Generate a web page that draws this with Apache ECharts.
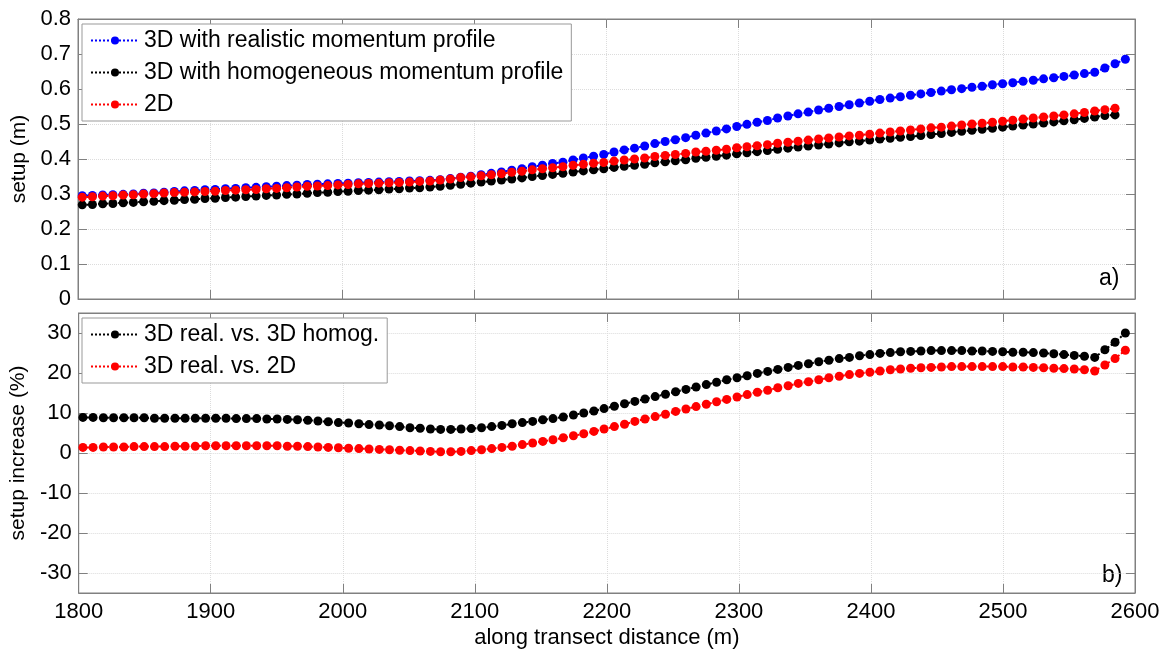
<!DOCTYPE html>
<html><head><meta charset="utf-8">
<script src="https://cdn.jsdelivr.net/npm/echarts@6/dist/echarts.min.js"></script>
<style>html,body{margin:0;padding:0;background:#fff}#c{width:1167px;height:650px}</style>
</head><body><div id="c"></div><script>
// ---- data ----
const distance = [1803.2,1810.9,1818.7,1826.4,1834.2,1841.9,1849.6,1857.4,1865.1,1872.9,
1880.6,1888.3,1896.1,1903.8,1911.6,1919.3,1927.0,1934.8,1942.5,1950.3,
1958.0,1965.7,1973.5,1981.2,1989.0,1996.7,2004.4,2012.2,2019.9,2027.7,
2035.4,2043.1,2050.9,2058.6,2066.4,2074.1,2081.8,2089.6,2097.3,2105.1,
2112.8,2120.5,2128.3,2136.0,2143.8,2151.5,2159.2,2167.0,2174.7,2182.5,
2190.2,2197.9,2205.7,2213.4,2221.2,2228.9,2236.6,2244.4,2252.1,2259.9,
2267.6,2275.3,2283.1,2290.8,2298.6,2306.3,2314.0,2321.8,2329.5,2337.3,
2345.0,2352.7,2360.5,2368.2,2376.0,2383.7,2391.4,2399.2,2406.9,2414.7,
2422.4,2430.1,2437.9,2445.6,2453.4,2461.1,2468.8,2476.6,2484.3,2492.1,
2499.8,2507.5,2515.3,2523.0,2530.8,2538.5,2546.2,2554.0,2561.7,2569.5,
2577.2,2584.9,2592.7];

const setupRealistic = [.295,.296,.297,.298,.299,.300,.302,.303,.305,.307,
.309,.310,.312,.313,.315,.316,.318,.319,.321,.322,
.324,.325,.327,.328,.329,.330,.331,.332,.333,.334,
.335,.336,.337,.338,.339,.341,.344,.348,.351,.355,
.359,.363,.368,.372,.378,.382,.387,.391,.397,.403,
.408,.413,.420,.426,.431,.437,.444,.450,.455,.461,
.468,.474,.480,.486,.493,.499,.505,.510,.517,.523,
.529,.534,.540,.545,.550,.555,.560,.565,.570,.574,
.578,.582,.586,.590,.594,.598,.601,.605,.608,.612,
.615,.618,.622,.625,.629,.632,.636,.640,.644,.648,
.660,.672,.685];

const setupHomogeneous = [.269,.270,.272,.273,.275,.276,.278,.279,.281,.282,
.284,.285,.287,.288,.290,.291,.293,.294,.296,.297,
.299,.300,.302,.304,.305,.307,.308,.310,.311,.312,
.314,.315,.317,.318,.320,.322,.325,.328,.331,.334,
.337,.340,.343,.346,.350,.353,.356,.359,.363,.366,
.369,.372,.376,.379,.382,.385,.389,.392,.395,.398,
.402,.405,.408,.411,.415,.418,.421,.424,.428,.431,
.434,.437,.440,.443,.446,.449,.451,.454,.457,.459,
.462,.464,.467,.470,.473,.476,.479,.482,.485,.488,
.491,.494,.497,.500,.503,.506,.509,.512,.516,.520,
.524,.526];

const setup2D = [.291,.292,.294,.295,.297,.298,.300,.301,.303,.304,
.305,.306,.307,.308,.310,.311,.312,.313,.315,.316,
.318,.320,.322,.323,.324,.326,.327,.329,.330,.331,
.332,.333,.334,.336,.337,.340,.343,.347,.349,.352,
.355,.358,.362,.365,.369,.372,.375,.378,.382,.385,
.388,.390,.394,.397,.400,.403,.407,.410,.413,.416,
.420,.422,.425,.428,.432,.435,.438,.441,.445,.448,
.451,.454,.457,.460,.463,.466,.468,.471,.474,.477,
.480,.483,.486,.489,.491,.494,.497,.500,.502,.505,
.508,.511,.514,.517,.520,.523,.526,.529,.533,.537,
.541,.545];

const increaseVsHomog = [8.9,8.9,8.8,8.8,8.8,8.8,8.8,8.7,8.7,8.7,
8.7,8.7,8.7,8.7,8.7,8.6,8.6,8.6,8.5,8.5,
8.4,8.3,8.2,8.0,7.8,7.6,7.5,7.3,7.1,7.0,
6.8,6.6,6.3,6.2,6.0,5.9,5.9,6.0,6.1,6.3,
6.6,6.9,7.3,7.6,7.9,8.3,8.6,9.0,9.5,10.0,
10.5,11.1,11.7,12.3,12.9,13.5,14.1,14.7,15.3,15.9,
16.5,17.1,17.7,18.3,18.8,19.3,19.9,20.4,20.9,21.4,
21.9,22.3,22.8,23.2,23.6,23.9,24.3,24.6,24.9,25.1,
25.3,25.4,25.5,25.6,25.6,25.6,25.6,25.5,25.5,25.4,
25.3,25.2,25.2,25.1,25.0,24.8,24.6,24.4,24.2,23.9,
25.8,27.7,30.0];

const increaseVs2D = [1.4,1.4,1.5,1.5,1.5,1.6,1.6,1.6,1.6,1.7,
1.7,1.7,1.8,1.8,1.8,1.8,1.8,1.8,1.8,1.8,
1.7,1.7,1.6,1.5,1.4,1.3,1.2,1.1,1.0,0.9,
0.8,0.7,0.6,0.5,0.4,0.3,0.3,0.4,0.6,0.8,
1.1,1.4,1.7,2.1,2.5,2.9,3.3,3.8,4.3,4.8,
5.4,6.0,6.6,7.2,7.9,8.5,9.1,9.7,10.4,11.0,
11.6,12.2,12.8,13.4,14.0,14.6,15.2,15.7,16.3,16.8,
17.4,17.8,18.3,18.8,19.2,19.6,19.9,20.2,20.5,20.8,
21.0,21.2,21.3,21.4,21.5,21.6,21.6,21.6,21.6,21.6,
21.6,21.5,21.5,21.4,21.3,21.2,21.1,21.0,20.8,20.5,
22.0,23.6,25.7];

const topNames = ['3D with realistic momentum profile','3D with homogeneous momentum profile','2D'];
const bottomNames = ['3D real. vs. 3D homog.','3D real. vs. 2D'];
const xLabelName = 'along transect distance (m)';
const yTopName = 'setup (m)';
const yBottomName = 'setup increase (%)';
const panelTags = ['a)','b)'];

// ---- styling ----
const FONT = '"Liberation Sans", Arial, Helvetica, sans-serif';
const FS = 22;     // tick labels
const FL = 23;     // legend / names
const AX = '#808080';
const GRIDC = '#dcdcdc';

function pairs(vals){ return vals.map((v,i)=>[distance[i], v]); }

function xAx(grid, pos, labels, split, name){
  return {
    type:'value', gridIndex:grid, position:pos, min:1800, max:2600, interval:100,
    axisLine:{show:true, onZero:false, lineStyle:{color:AX, width:1}},
    axisTick:{show:true, inside:true, length:9, lineStyle:{color:AX}},
    axisLabel:{show:labels, color:'#000', fontFamily:FONT, fontSize:FS, margin:8,
      formatter:(v)=>String(v)},
    splitLine:{show:split, lineStyle:{color:GRIDC, type:'dotted', width:1}},
    name: name||'', nameLocation:'middle', nameGap:34,
    nameTextStyle:{color:'#000', fontFamily:FONT, fontSize:FL-1}
  };
}
function yAx(grid, pos, labels, split, range, name){
  const o = {
    type:'value', gridIndex:grid, position:pos, min:range.min, max:range.max,
    axisLine:{show:true, onZero:false, lineStyle:{color:AX, width:1}},
    axisTick:{show:true, inside:true, length:9, lineStyle:{color:AX}},
    axisLabel:{show:labels, color:'#000', fontFamily:FONT, fontSize:FS, margin:7,
      showMinLabel:range.showMin, showMaxLabel:range.showMax},
    splitLine:{show:split, lineStyle:{color:GRIDC, type:'dotted', width:1}},
    name: name||'', nameLocation:'middle', nameGap:48, nameRotate:90,
    nameTextStyle:{color:'#000', fontFamily:FONT, fontSize:FL-2}
  };
  if (range.interval) o.interval = range.interval; else o.splitNumber = range.splitNumber;
  return o;
}
const topRange = {min:0, max:0.8, interval:0.1, showMin:true, showMax:true};
const botRange = {min:-35, max:35, splitNumber:7, showMin:false, showMax:false};

function lineSeries(name, color, vals, xi, yi, z){
  return {
    name, type:'line', xAxisIndex:xi, yAxisIndex:yi, data:pairs(vals),
    symbol:'circle', symbolSize:9, showAllSymbol:true, showSymbol:true,
    itemStyle:{color}, lineStyle:{color, width:2, type:'dotted'},
    emphasis:{disabled:true}, animation:false, z
  };
}

const legendCommon = {
  orient:'vertical', backgroundColor:'#fff', borderColor:'#999', borderWidth:1,
  itemGap:9, itemWidth:48, itemHeight:10, selectedMode:false,
  textStyle:{color:'#000', fontFamily:FONT, fontSize:FL}
};

const option = {
  backgroundColor:'#fff',
  animation:false,
  grid:[
    {left:78, width:1057, top:19, height:280, show:true, borderColor:AX, borderWidth:1, backgroundColor:'transparent'},
    {left:78, width:1057, top:313, height:280, show:true, borderColor:AX, borderWidth:1, backgroundColor:'transparent'}
  ],
  xAxis:[ xAx(0,'bottom',false,true), xAx(0,'top',false,false), xAx(1,'bottom',true,true,xLabelName), xAx(1,'top',false,false) ],
  yAxis:[ yAx(0,'left',true,true,topRange,yTopName), yAx(0,'right',false,false,topRange),
          yAx(1,'left',true,true,botRange,yBottomName), yAx(1,'right',false,false,botRange) ],
  legend:[
    Object.assign({}, legendCommon, {left:82, top:24, padding:[5,8,5,8], data:topNames}),
    Object.assign({}, legendCommon, {left:82, top:318, padding:[5,8,5,8], data:bottomNames})
  ],
  graphic:[
    {type:'text', left:1099, top:267, style:{text:panelTags[0], font:FL+'px '+FONT, fill:'#000'}},
    {type:'text', left:1102, top:564, style:{text:panelTags[1], font:FL+'px '+FONT, fill:'#000'}}
  ],
  series:[
    lineSeries(topNames[0], '#0000ff', setupRealistic, 0, 0, 2),
    lineSeries(topNames[1], '#000000', setupHomogeneous, 0, 0, 3),
    lineSeries(topNames[2], '#ff0000', setup2D, 0, 0, 4),
    lineSeries(bottomNames[0], '#000000', increaseVsHomog, 2, 2, 3),
    lineSeries(bottomNames[1], '#ff0000', increaseVs2D, 2, 2, 4)
  ]
};
const chart = echarts.init(document.getElementById('c'), null, {renderer:'canvas'});
chart.setOption(option);
</script></body></html>
